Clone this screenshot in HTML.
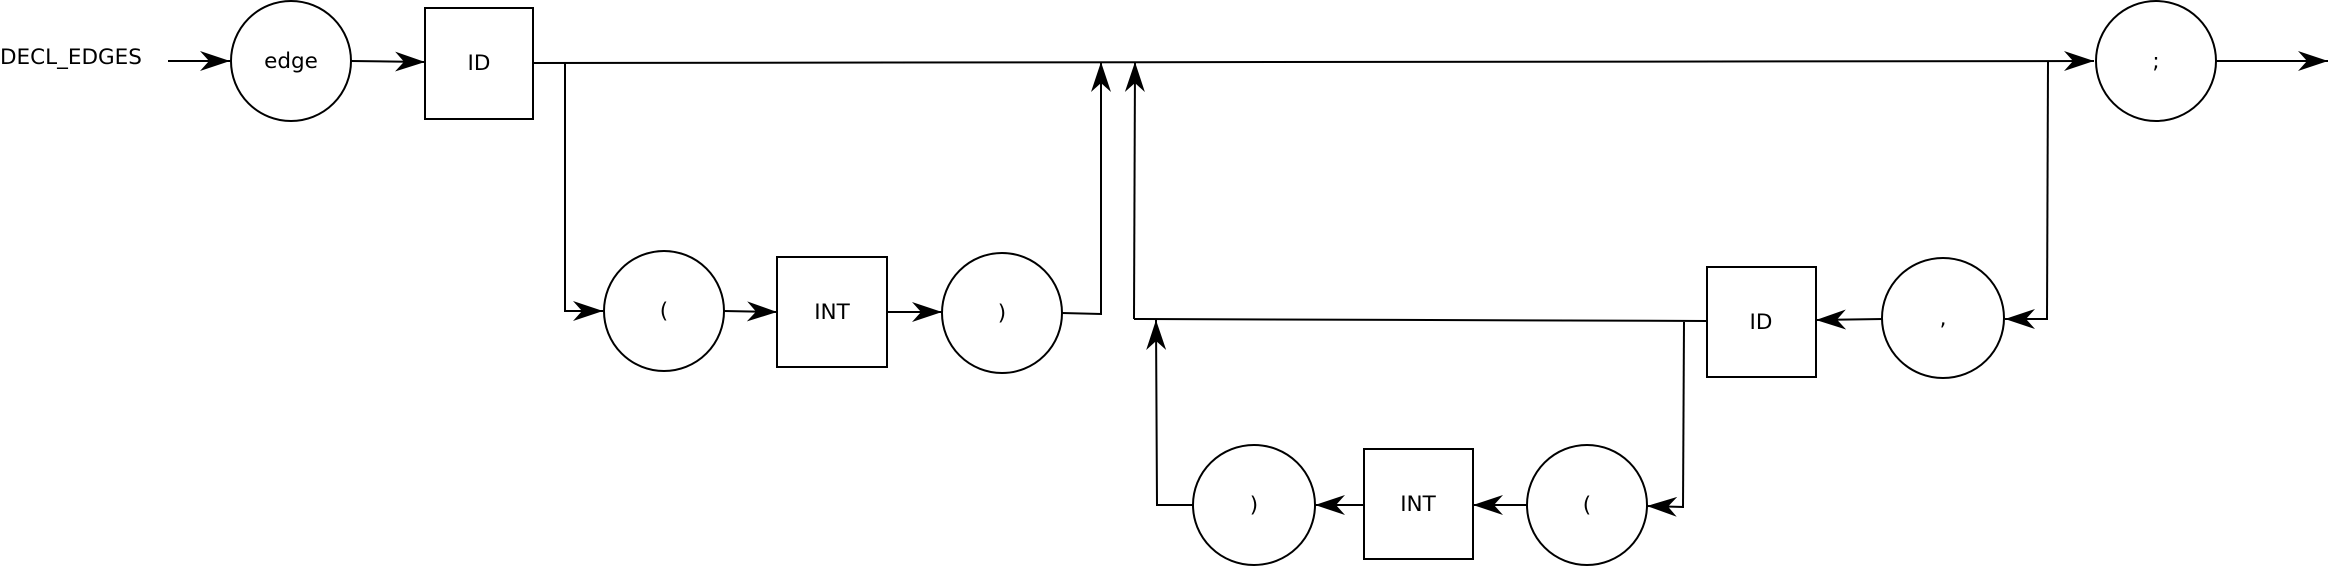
<!DOCTYPE html>
<html><head><meta charset="utf-8"><style>
html,body{margin:0;padding:0;background:#fff;}
svg{display:block;}
text{font-family:"DejaVu Sans","Liberation Sans",sans-serif;font-size:21.5px;fill:#000;}
</style></head><body>
<svg width="2330" height="566" viewBox="0 0 2330 566" xmlns="http://www.w3.org/2000/svg">
<defs>
<marker id="a" markerWidth="32" markerHeight="22" refX="30" refY="11" orient="auto" markerUnits="userSpaceOnUse">
<path d="M0,1 L30,11 L0,21 L9,11 Z" fill="#000"/>
</marker>
</defs>
<g fill="none" stroke="#000" stroke-width="2">
<line x1="168" y1="61" x2="230" y2="61" marker-end="url(#a)"/>
<ellipse cx="291" cy="61" rx="60" ry="60"/>
<line x1="351" y1="61" x2="425" y2="62" marker-end="url(#a)"/>
<rect x="425" y="8" width="108" height="111"/>
<line x1="533" y1="63" x2="2094" y2="61" marker-end="url(#a)"/>
<ellipse cx="2156" cy="61" rx="60" ry="60"/>
<line x1="2216" y1="61" x2="2328" y2="61" marker-end="url(#a)"/>
<polyline points="565,63 565,311 603,311" marker-end="url(#a)"/>
<ellipse cx="664" cy="311" rx="60" ry="60"/>
<line x1="724" y1="311" x2="777" y2="312" marker-end="url(#a)"/>
<rect x="777" y="257" width="110" height="110"/>
<line x1="887" y1="312" x2="942" y2="312" marker-end="url(#a)"/>
<ellipse cx="1002" cy="313" rx="60" ry="60"/>
<polyline points="1062,313 1101,314 1101,62" marker-end="url(#a)"/>
<line x1="2048" y1="62" x2="2047" y2="319"/>
<line x1="2048" y1="319" x2="2005" y2="319" marker-end="url(#a)"/>
<ellipse cx="1943" cy="318" rx="61" ry="60"/>
<line x1="1883" y1="319" x2="1816" y2="320" marker-end="url(#a)"/>
<rect x="1707" y="267" width="109" height="110"/>
<line x1="1707" y1="321" x2="1134" y2="319"/>
<line x1="1134" y1="319" x2="1135" y2="62" marker-end="url(#a)"/>
<line x1="1684" y1="322" x2="1683" y2="508"/>
<line x1="1684" y1="507" x2="1647" y2="506" marker-end="url(#a)"/>
<ellipse cx="1587" cy="505" rx="60" ry="60"/>
<line x1="1527" y1="505" x2="1473" y2="505" marker-end="url(#a)"/>
<rect x="1364" y="449" width="109" height="110"/>
<line x1="1364" y1="505" x2="1315" y2="505" marker-end="url(#a)"/>
<ellipse cx="1254" cy="505" rx="61" ry="60"/>
<polyline points="1193,505 1157,505 1156,320" marker-end="url(#a)"/>
</g>
<text x="0" y="64">DECL_EDGES</text>
<text x="291" y="68" text-anchor="middle">edge</text>
<text x="479" y="70" text-anchor="middle">ID</text>
<text x="2156" y="68" text-anchor="middle">;</text>
<text x="664" y="318" text-anchor="middle">(</text>
<text x="832" y="319" text-anchor="middle">INT</text>
<text x="1002" y="320" text-anchor="middle">)</text>
<text x="1761" y="329" text-anchor="middle">ID</text>
<text x="1943" y="325" text-anchor="middle">,</text>
<text x="1587" y="512" text-anchor="middle">(</text>
<text x="1418" y="511" text-anchor="middle">INT</text>
<text x="1254" y="512" text-anchor="middle">)</text>
</svg>
</body></html>
